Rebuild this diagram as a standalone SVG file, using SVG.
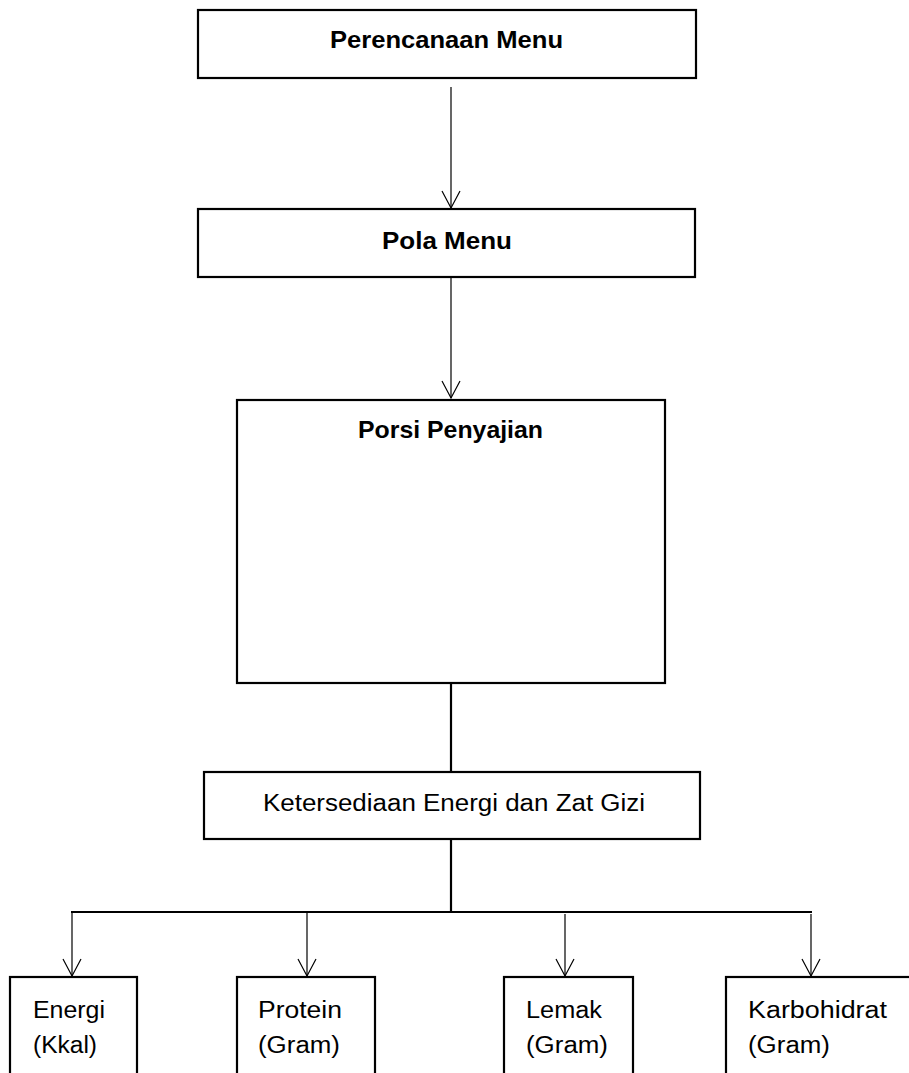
<svg xmlns="http://www.w3.org/2000/svg" width="909" height="1073" viewBox="0 0 909 1073">
<style>
.box{fill:#fff;stroke:#000;stroke-width:2.2}
.thin{stroke:#000;stroke-width:1.2;fill:none}
.thick{stroke:#000;stroke-width:2.2;fill:none}
.b{font-family:"Liberation Sans",Arial,sans-serif;font-weight:bold;font-size:24px;fill:#000}
.r{font-family:"Liberation Sans",Arial,sans-serif;font-size:23px;fill:#000}
</style>
<defs>
<marker id="v" markerUnits="userSpaceOnUse" markerWidth="20" markerHeight="20" viewBox="-19 -10 20 20" refX="0" refY="0" orient="auto" overflow="visible">
<path d="M-17,-9 L0,0 L-17,9" fill="none" stroke="#000" stroke-width="1.2"/>
</marker>
</defs>
<rect width="909" height="1073" fill="#fff"/>
<g id="connectors">
<line class="thin" x1="451" y1="87" x2="451" y2="208" marker-end="url(#v)"/>
<line class="thin" x1="451" y1="277" x2="451" y2="398" marker-end="url(#v)"/>
<line class="thick" x1="451" y1="683" x2="451" y2="772"/>
<line class="thick" x1="451" y1="839" x2="451" y2="912"/>
<line class="thick" x1="71" y1="912" x2="812" y2="912"/>
<line class="thin" x1="72" y1="912" x2="72" y2="976" marker-end="url(#v)"/>
<line class="thin" x1="307" y1="912" x2="307" y2="976" marker-end="url(#v)"/>
<line class="thin" x1="565" y1="914" x2="565" y2="976" marker-end="url(#v)"/>
<line class="thin" x1="811" y1="914" x2="811" y2="976" marker-end="url(#v)"/>
</g>
<g id="perencanaan">
<rect class="box" x="198" y="10" width="498" height="68"/>
<text class="b" x="446.5" y="48" text-anchor="middle" textLength="233" lengthAdjust="spacingAndGlyphs">Perencanaan Menu</text>
</g>
<g id="pola">
<rect class="box" x="198" y="209" width="497" height="68"/>
<text class="b" x="447" y="249" text-anchor="middle" textLength="130" lengthAdjust="spacingAndGlyphs">Pola Menu</text>
</g>
<g id="porsi">
<rect class="box" x="237" y="400" width="428" height="283"/>
<text class="b" x="450.5" y="438" text-anchor="middle" textLength="185" lengthAdjust="spacingAndGlyphs">Porsi Penyajian</text>
</g>
<g id="ketersediaan">
<rect class="box" x="204" y="772" width="496" height="67"/>
<text class="r" x="454" y="811" text-anchor="middle" textLength="382" lengthAdjust="spacingAndGlyphs">Ketersediaan Energi dan Zat Gizi</text>
</g>
<g id="energi">
<rect class="box" x="10" y="977" width="127" height="110"/>
<text class="r" x="33" y="1018" textLength="72" lengthAdjust="spacingAndGlyphs">Energi</text>
<text class="r" x="33" y="1053" textLength="64" lengthAdjust="spacingAndGlyphs">(Kkal)</text>
</g>
<g id="protein">
<rect class="box" x="237" y="977" width="138" height="110"/>
<text class="r" x="258" y="1018" textLength="84" lengthAdjust="spacingAndGlyphs">Protein</text>
<text class="r" x="258" y="1053" textLength="82" lengthAdjust="spacingAndGlyphs">(Gram)</text>
</g>
<g id="lemak">
<rect class="box" x="504" y="977" width="129" height="110"/>
<text class="r" x="526" y="1018" textLength="76" lengthAdjust="spacingAndGlyphs">Lemak</text>
<text class="r" x="526" y="1053" textLength="82" lengthAdjust="spacingAndGlyphs">(Gram)</text>
</g>
<g id="karbohidrat">
<rect class="box" x="726" y="977" width="200" height="110"/>
<text class="r" x="748" y="1018" textLength="139" lengthAdjust="spacingAndGlyphs">Karbohidrat</text>
<text class="r" x="748" y="1053" textLength="82" lengthAdjust="spacingAndGlyphs">(Gram)</text>
</g>
</svg>
